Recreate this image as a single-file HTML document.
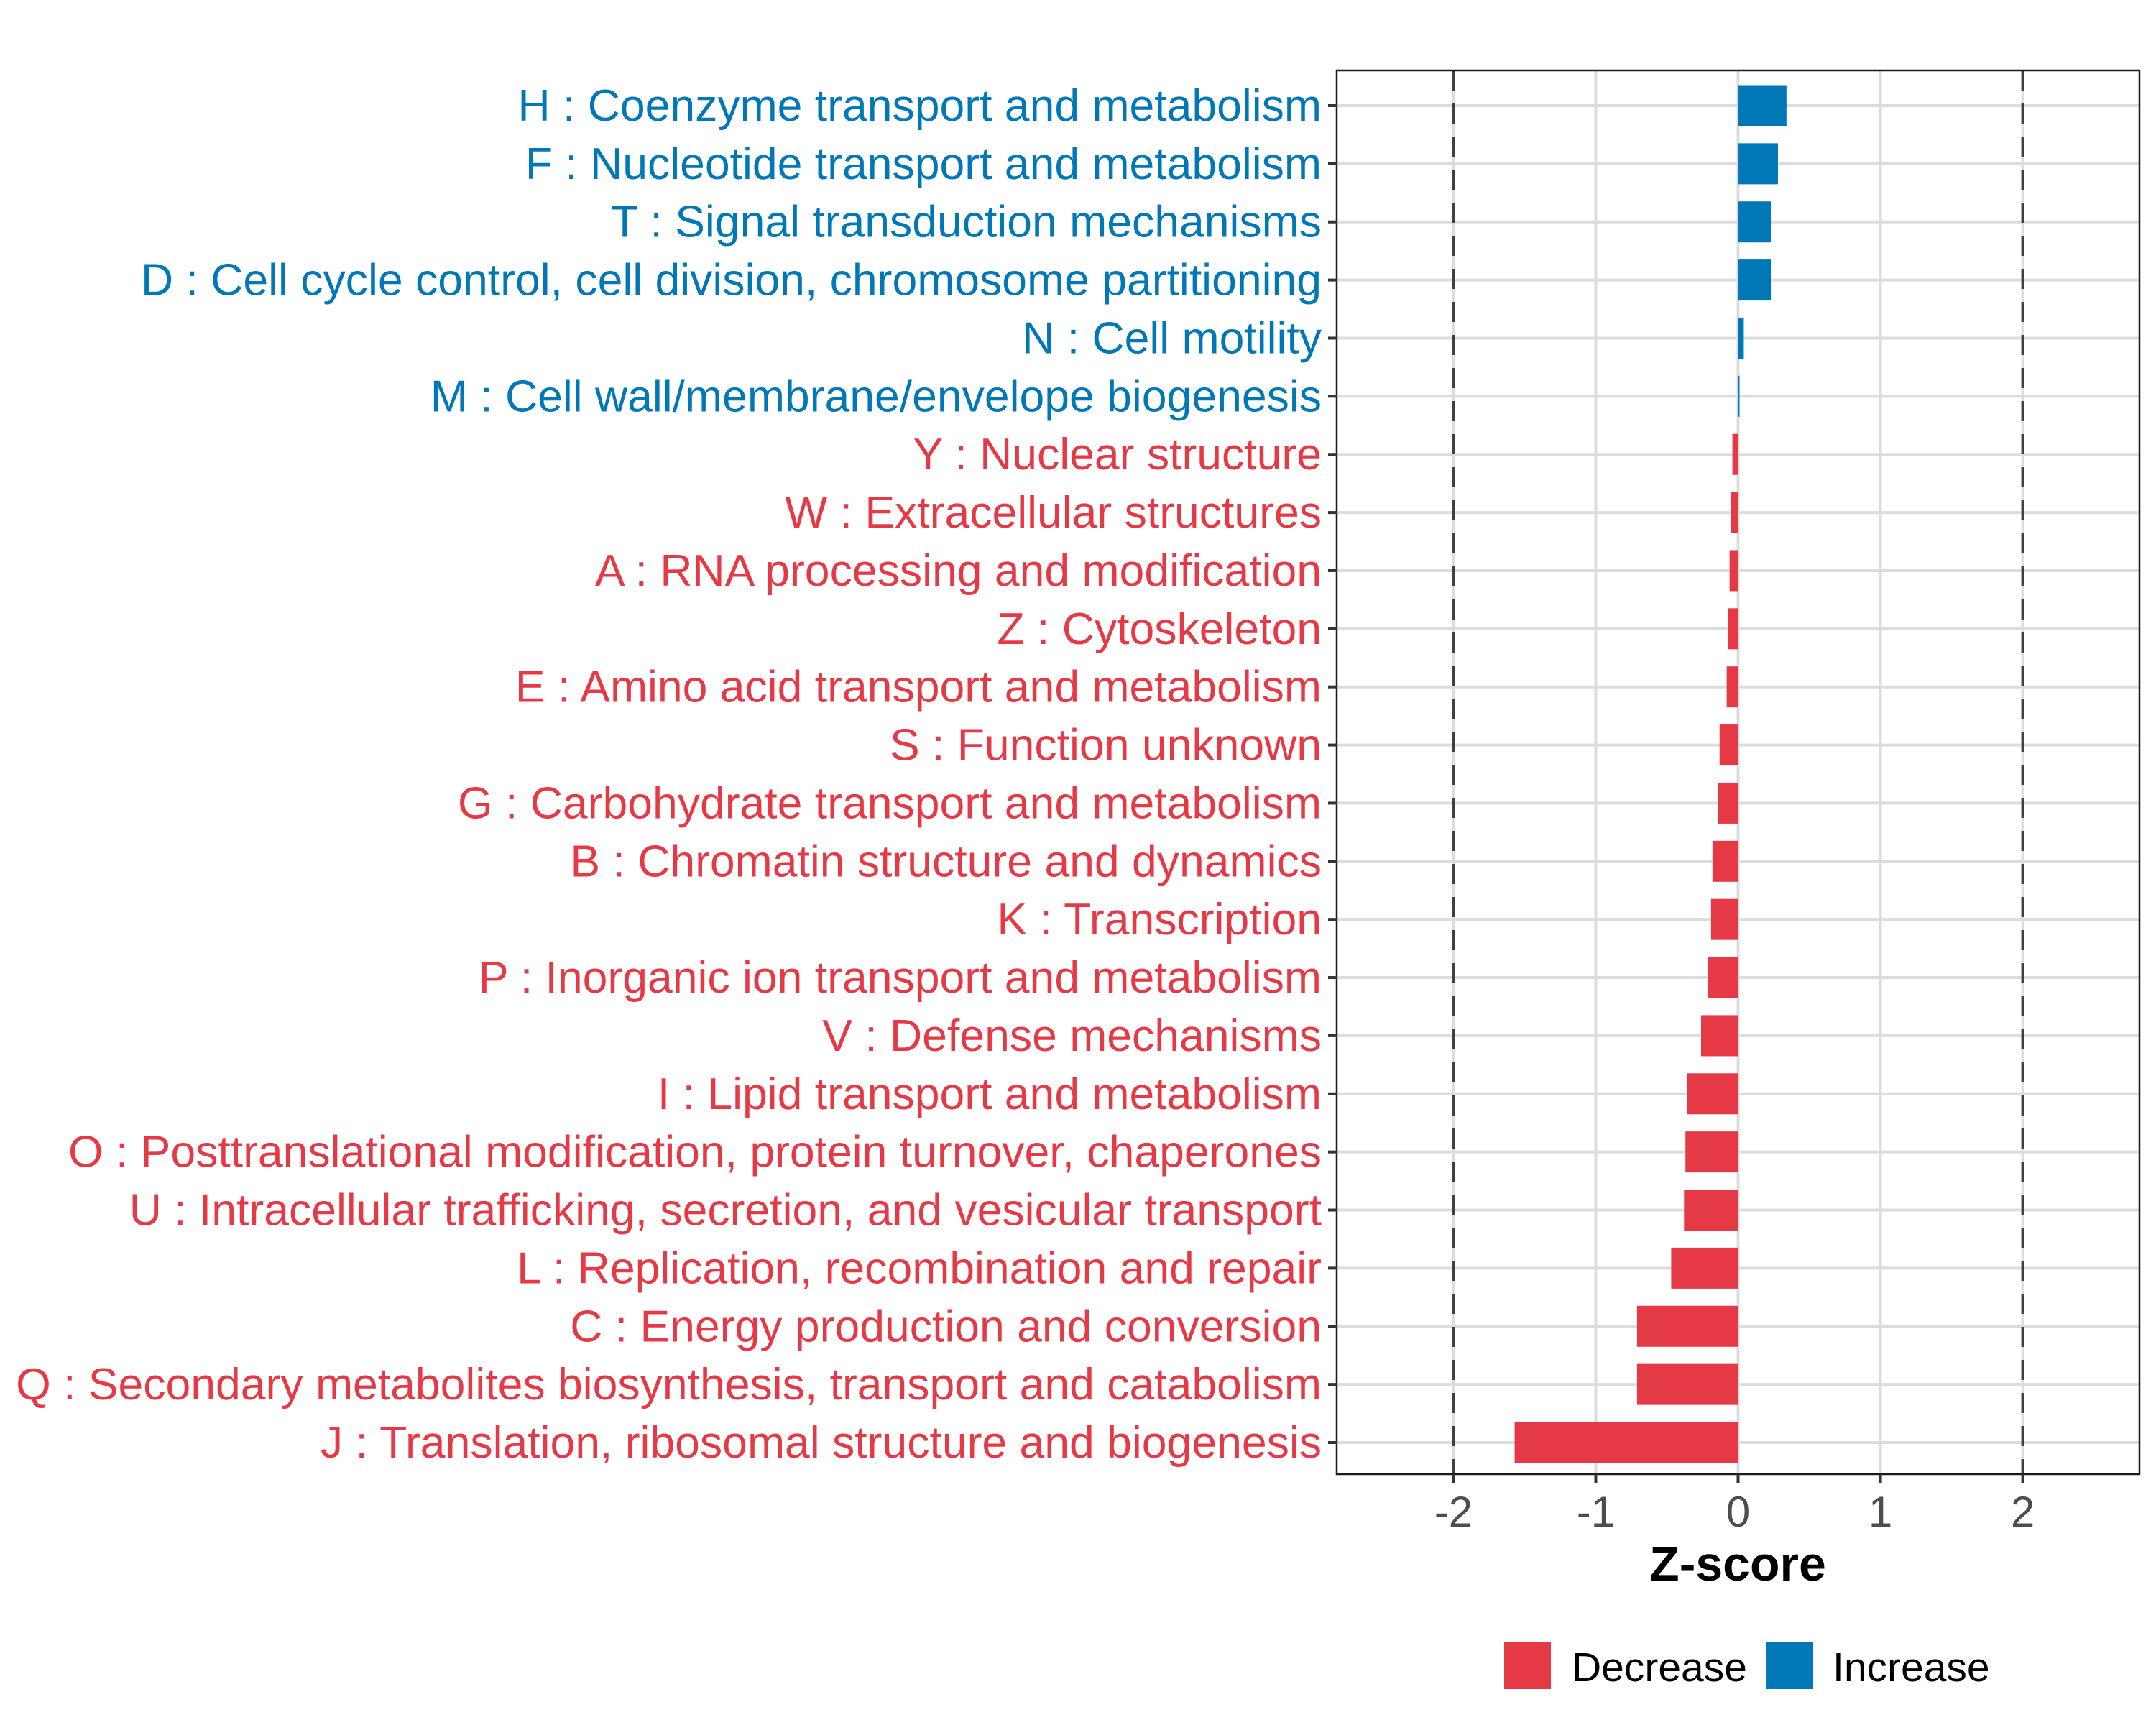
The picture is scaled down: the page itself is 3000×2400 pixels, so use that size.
<!DOCTYPE html>
<html><head><meta charset="utf-8"><style>
html,body{margin:0;padding:0;background:#fff;}
svg{display:block;font-family:"Liberation Sans",Arial,sans-serif;}
</style></head><body>
<svg id="chart" width="3000" height="2400" viewBox="0 0 3000 2400" xmlns="http://www.w3.org/2000/svg">
<rect width="3000" height="2400" fill="#fff"/>
<g id="grid"></g><g id="bars"></g><g id="axes"></g>
</svg>
<script>
const categories = ["H : Coenzyme transport and metabolism","F : Nucleotide transport and metabolism","T : Signal transduction mechanisms","D : Cell cycle control, cell division, chromosome partitioning","N : Cell motility","M : Cell wall/membrane/envelope biogenesis","Y : Nuclear structure","W : Extracellular structures","A : RNA processing and modification","Z : Cytoskeleton","E : Amino acid transport and metabolism","S : Function unknown","G : Carbohydrate transport and metabolism","B : Chromatin structure and dynamics","K : Transcription","P : Inorganic ion transport and metabolism","V : Defense mechanisms","I : Lipid transport and metabolism","O : Posttranslational modification, protein turnover, chaperones","U : Intracellular trafficking, secretion, and vesicular transport","L : Replication, recombination and repair","C : Energy production and conversion","Q : Secondary metabolites biosynthesis, transport and catabolism","J : Translation, ribosomal structure and biogenesis"];
const zscores = [0.34,0.28,0.23,0.23,0.04,0.01,-0.04,-0.05,-0.06,-0.07,-0.08,-0.13,-0.14,-0.18,-0.19,-0.21,-0.26,-0.36,-0.37,-0.38,-0.47,-0.71,-0.71,-1.57];
const xTicks = [-2,-1,0,1,2];
const xTickLabels = ["-2","-1","0","1","2"];
const thresholds = [-2,2];

const NS="http://www.w3.org/2000/svg";
const L=1860,R=2977,T=98,B=2051;
const xmin=-2.82,xmax=2.82;
const xs=v=>L+(v-xmin)/(xmax-xmin)*(R-L);
const y0=147,y1=2007;
const ys=i=>y0+i*(y1-y0)/(categories.length-1);
const RED="#E63946",BLUE="#0077B6";
function mk(tag,attrs,parent){const e=document.createElementNS(NS,tag);for(const k in attrs)e.setAttribute(k,attrs[k]);parent.appendChild(e);return e;}
const grid=document.getElementById('grid'),bars=document.getElementById('bars'),axes=document.getElementById('axes');
xTicks.forEach((t,i)=>{
 const g=mk('line',{x1:xs(t),x2:xs(t),y1:T,y2:B,stroke:'#DCDCDC','stroke-width':4},grid);
 
 
});
categories.forEach((c,i)=>{
 const g=mk('line',{x1:L,x2:R,y1:ys(i),y2:ys(i),stroke:'#DCDCDC','stroke-width':4},grid);
 
 
});
thresholds.forEach(t=>{
 const d=mk('line',{x1:xs(t),x2:xs(t),y1:T,y2:B,stroke:'#404040','stroke-width':4,'stroke-dasharray':'28 18'},grid);
 
 
});
const bh=57;
zscores.forEach((v,i)=>{
 const a=xs(0),b=xs(v);
 const r=mk('rect',{x:Math.min(a,b),y:ys(i)-bh/2,width:Math.max(Math.abs(b-a),1),height:bh,fill:v>=0?BLUE:RED},bars);
 
 
});
const border=mk('rect',{x:L,y:T,width:R-L,height:B-T,fill:'none',stroke:'#1a1a1a','stroke-width':2.5},axes);


categories.forEach((c,i)=>{
 mk('line',{x1:L-12,x2:L,y1:ys(i),y2:ys(i),stroke:'#333','stroke-width':4},axes);
 const t=mk('text',{x:1839,y:ys(i)+21,'text-anchor':'end','font-size':62.5,fill:zscores[i]>=0?BLUE:RED},axes);
 t.textContent=c;
 
 
});
xTicks.forEach((v,i)=>{
 mk('line',{x1:xs(v),x2:xs(v),y1:B,y2:B+12,stroke:'#333','stroke-width':4},axes);
 const t=mk('text',{x:xs(v),y:2124,'text-anchor':'middle','font-size':60,fill:'#4d4d4d'},axes);
 t.textContent=xTickLabels[i];
 
 
});
</script>
<svg style="position:absolute;left:0;top:0" width="3000" height="2400">
<text x="2418" y="2199" text-anchor="middle" font-size="68" font-weight="bold" font-family="Liberation Sans, sans-serif" fill="#000">Z-score</text>
<rect x="2093" y="2285" width="65" height="65" fill="#E63946"/>
<text x="2187" y="2339" font-size="57" font-family="Liberation Sans, sans-serif" fill="#000">Decrease</text>
<rect x="2458" y="2285" width="65" height="65" fill="#0077B6"/>
<text x="2550" y="2339" font-size="57" font-family="Liberation Sans, sans-serif" fill="#000">Increase</text>
</svg>
</body></html>
